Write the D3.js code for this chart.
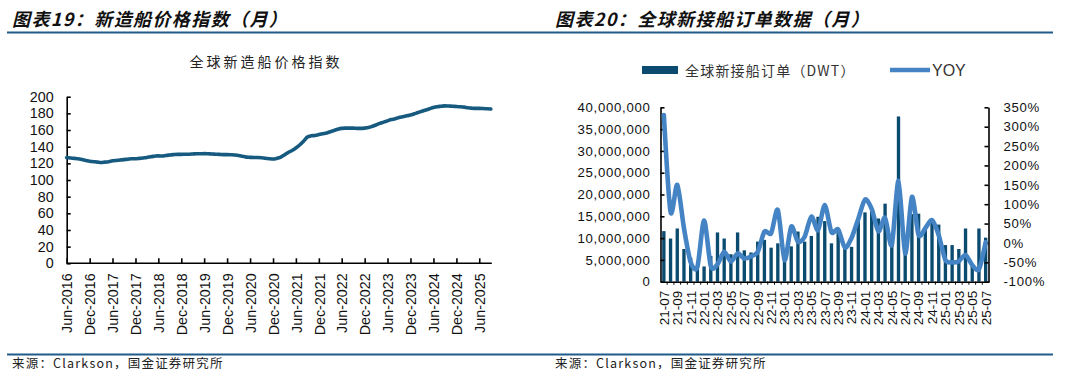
<!DOCTYPE html>
<html><head><meta charset="utf-8">
<script src="https://cdn.jsdelivr.net/npm/d3@7"></script>
<style>body{margin:0;background:#fff;} svg{display:block;background:#fff}</style>
</head><body><svg id="c" width="1080" height="379"></svg>
<script>
// ---------- DATA ----------
const leftTitle = "图表19：新造船价格指数（月）";
const rightTitle = "图表20：全球新接船订单数据（月）";
const sourceText = "来源：Clarkson，国金证券研究所";
const priceSubtitle = "全球新造船价格指数";
const priceStartMonth = "2016-06";
const priceEndMonth = "2025-09";
// monthly index, Jun-2016 .. Sep-2025
const priceIndex = [
  127,126.5,126,125.5,124.5,123.5,122.5,
  122,121.5,121,121.5,122,123,123.5,124,124.5,125,125.5,125.5,
  126,126.5,127,128,128.5,129,128.8,129.5,130,130.5,130.8,130.8,
  131,131,131.2,131.5,131.5,131.7,131.5,131.2,131,130.8,130.5,130.5,
  130.3,130,129.5,128.5,127.5,127.2,127,127,126.8,126,125.5,125.2,
  126,127.5,130,133,135.5,138.5,142,146.5,151.5,153,153.5,154.5,
  155.5,156.5,158,159.5,161,162,162.3,162.3,162.3,162,162,162.3,
  163,164.5,166,168,169.5,171,172.5,173.5,175,176,177,178,
  179.5,181,182.5,184,185.5,187,188,188.5,189,188.8,188.5,188.3,
  188,187.5,186.8,186.3,186,186,185.8,185.5,185.2
];
const priceTickLabels = ["Jun-2016","Dec-2016","Jun-2017","Dec-2017","Jun-2018","Dec-2018","Jun-2019","Dec-2019","Jun-2020","Dec-2020","Jun-2021","Dec-2021","Jun-2022","Dec-2022","Jun-2023","Dec-2023","Jun-2024","Dec-2024","Jun-2025"];
const priceYTicks = [0,20,40,60,80,100,120,140,160,180,200];

const orderMonths = ["21-07","21-08","21-09","21-10","21-11","21-12",
  "22-01","22-02","22-03","22-04","22-05","22-06","22-07","22-08","22-09","22-10","22-11","22-12",
  "23-01","23-02","23-03","23-04","23-05","23-06","23-07","23-08","23-09","23-10","23-11","23-12",
  "24-01","24-02","24-03","24-04","24-05","24-06","24-07","24-08","24-09","24-10","24-11","24-12",
  "25-01","25-02","25-03","25-04","25-05","25-06","25-07"];
// DWT, millions
const orderDWT = [11.6,9.9,12.2,7.5,5.5,3.5,3.5,5.9,11.3,9.9,6.3,11.3,7.2,6.7,9.2,9.6,7.8,8.8,
  5.5,8.1,11.5,9.2,10.5,14.9,13.9,8.8,12.3,8.0,8.0,14.3,15.9,16.6,14.5,17.9,10.0,37.9,8.0,
  15.5,15.6,12.6,13.5,13.1,8.4,8.4,7.5,12.2,4.0,12.2,10.1];
// YoY, %
const orderYoY = [330,80,150,38,-50,-62,58,-60,-55,-23,-48,-27,-40,-35,-23,29,25,85,
  -44,42,3,16,68,33,98,28,35,-12,13,62,112,88,30,65,-5,160,-27,
  119,20,38,59,20,-44,-50,-47,-31,-57,-68,2];
const orderYTicks = [0,5e6,10e6,15e6,20e6,25e6,30e6,35e6,40e6];
const yoyTicks = [-100,-50,0,50,100,150,200,250,300,350];
const legendBar = "全球新接船订单（DWT）";
const legendLine = "YOY";

// ---------- STYLE ----------
const CJK = "'Noto Sans CJK SC', sans-serif";
const LAT = "'Liberation Sans', Arial, sans-serif";
const navy = "#0c4b70", lineBlue = "#4584c4", idxColor = "#165a80", rule = "#1f5c8b";

const svg = d3.select("#c");

// ---------- HEADERS / FOOTERS ----------
function header(x, txt) {
  svg.append("text").attr("x", x).attr("y", 26).text(txt)
    .attr("font-family", CJK).attr("font-size", 18).attr("font-weight", 700)
    .attr("font-style", "italic").attr("letter-spacing", 1.4).attr("fill", "#111");
}
header(12, leftTitle);
header(555, rightTitle);
svg.append("line").attr("x1", 7).attr("x2", 1053).attr("y1", 32.5).attr("y2", 32.5)
  .attr("stroke", rule).attr("stroke-width", 2);
svg.append("line").attr("x1", 7).attr("x2", 1053).attr("y1", 354.5).attr("y2", 354.5)
  .attr("stroke", rule).attr("stroke-width", 2);
[12, 555].forEach(x => svg.append("text").attr("x", x).attr("y", 368).text(sourceText)
  .attr("font-family", CJK).attr("font-size", 12.5).attr("letter-spacing", 1.2).attr("fill", "#222"));

// ---------- LEFT CHART ----------
const parseM = d3.timeParse("%Y-%m");
const pStart = parseM(priceStartMonth);
const priceDates = priceIndex.map((_, i) => d3.timeMonth.offset(pStart, i));
const xL = d3.scaleTime().domain([pStart, parseM(priceEndMonth)]).range([66.7, 490.8]);
const yL = d3.scaleLinear().domain([0, 200]).range([263.3, 96.7]);

svg.append("text").attr("x", 266).attr("y", 67).attr("text-anchor", "middle").text(priceSubtitle)
  .attr("font-family", CJK).attr("font-size", 14).attr("letter-spacing", 3).attr("fill", "#222");

const gyL = svg.append("g").attr("transform", `translate(${xL.range()[0]},0)`)
  .call(d3.axisLeft(yL).tickValues(priceYTicks).tickSizeInner(-4).tickSizeOuter(0).tickPadding(13));
const tickDates = priceTickLabels.map(s => d3.timeParse("%b-%Y")(s));
const gxL = svg.append("g").attr("transform", `translate(0,${yL(0)})`)
  .call(d3.axisBottom(xL).tickValues(tickDates).tickSizeInner(-5).tickSizeOuter(0)
    .tickFormat((d, i) => priceTickLabels[i]));
gxL.select(".domain").attr("d", `M${xL.range()[0]},0H${xL.range()[1] + 1}`);
gxL.selectAll("text").attr("transform", "rotate(-90)").attr("text-anchor", "end")
  .attr("x", -10).attr("y", 0).attr("dy", "0.36em");
[gyL, gxL].forEach(g => {
  g.selectAll(".domain,line").attr("stroke", "#000").attr("stroke-width", 1.6);
  g.selectAll("text").attr("font-family", LAT).attr("font-size", 14.3).attr("fill", "#111");
});

svg.append("path").datum(priceIndex)
  .attr("d", d3.line().x((d, i) => xL(priceDates[i])).y(d => yL(d)).curve(d3.curveMonotoneX))
  .attr("fill", "none").attr("stroke", idxColor).attr("stroke-width", 3.6)
  .attr("stroke-linejoin", "round").attr("stroke-linecap", "round");

// ---------- RIGHT CHART ----------
const xR = d3.scaleBand().domain(orderMonths).range([660.5, 989]).padding(0);
const yR = d3.scaleLinear().domain([0, 40e6]).range([281.7, 107.3]);
const yY = d3.scaleLinear().domain([-100, 350]).range([281.7, 107.3]);
const bw = xR.bandwidth();

// legend
svg.append("rect").attr("x", 642).attr("y", 66).attr("width", 36).attr("height", 8).attr("fill", navy);
svg.append("text").attr("x", 685).attr("y", 75.5).text(legendBar)
  .attr("font-family", CJK).attr("font-size", 14).attr("letter-spacing", 1.2).attr("fill", "#333");
svg.append("line").attr("x1", 890).attr("x2", 930).attr("y1", 70).attr("y2", 70)
  .attr("stroke", lineBlue).attr("stroke-width", 4.5);
svg.append("text").attr("x", 932).attr("y", 76).text(legendLine)
  .attr("font-family", LAT).attr("font-size", 16).attr("fill", "#333");

// bars
svg.append("g").selectAll("rect").data(orderDWT).join("rect")
  .attr("x", (d, i) => xR(orderMonths[i]) + bw * 0.25)
  .attr("width", bw * 0.5)
  .attr("y", d => yR(d * 1e6))
  .attr("height", d => yR(0) - yR(d * 1e6))
  .attr("fill", navy);

// axes
const gyR1 = svg.append("g").attr("transform", `translate(660.5,0)`)
  .call(d3.axisLeft(yR).tickValues(orderYTicks).tickSizeInner(-4).tickSizeOuter(0).tickPadding(10)
    .tickFormat(d => d === 0 ? "0" : d3.format(",")(d)));
const gyR2 = svg.append("g").attr("transform", `translate(988.5,0)`)
  .call(d3.axisRight(yY).tickValues(yoyTicks).tickSizeInner(-4).tickSizeOuter(0).tickPadding(15)
    .tickFormat(d => d + "%"));
const gxR = svg.append("g").attr("transform", `translate(0,${yR(0)})`)
  .call(d3.axisBottom(xR).tickValues(orderMonths.filter((d, i) => i % 2 === 0)).tickSize(0).tickSizeOuter(0));
gxR.selectAll("text").attr("transform", "rotate(-90)").attr("text-anchor", "end")
  .attr("x", -9).attr("y", 0).attr("dy", "0.36em");
svg.append("g").selectAll("line").data(orderMonths.slice(1)).join("line")
  .attr("x1", d => xR(d)).attr("x2", d => xR(d)).attr("y1", yR(0)).attr("y2", yR(0) + 3)
  .attr("stroke", "#000").attr("stroke-width", 1);
[gyR1, gyR2, gxR].forEach(g => {
  g.selectAll(".domain,line").attr("stroke", "#000").attr("stroke-width", 1.6);
  g.selectAll("text").attr("font-family", LAT).attr("font-size", 13.2).attr("fill", "#111");
});
gyR1.selectAll("text").attr("letter-spacing", 0.7);
gyR2.selectAll("text").attr("letter-spacing", 0.7);
gxR.selectAll("text").attr("font-size", 13.5);

// yoy line
svg.append("path").datum(orderYoY)
  .attr("d", d3.line().x((d, i) => xR(orderMonths[i]) + bw / 2).y(d => yY(d)).curve(d3.curveCardinal.tension(0.2)))
  .attr("fill", "none").attr("stroke", lineBlue).attr("stroke-width", 4.6)
  .attr("stroke-linejoin", "round").attr("stroke-linecap", "round");
</script></body></html>
